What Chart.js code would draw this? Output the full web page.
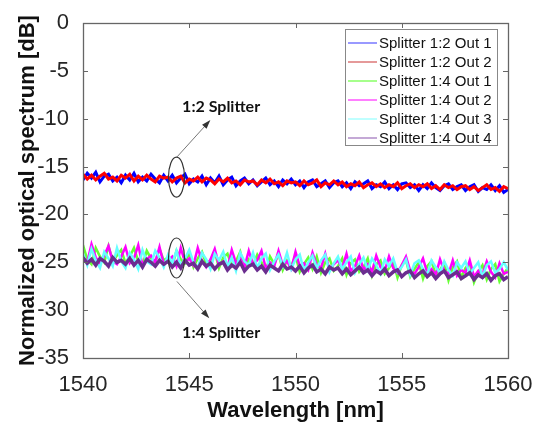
<!DOCTYPE html>
<html>
<head>
<meta charset="utf-8">
<script src="https://cdn.jsdelivr.net/npm/chart.js@4"></script>
<style>
  html, body { margin: 0; padding: 0; background: #fff; }
  #wrap { width: 535px; height: 427px; }
</style>
</head>
<body>
<div id="wrap"><canvas id="myChart" width="535" height="427"></canvas></div>
<script>
// sampling grid (nm)
const wavelength = [
  1540.0, 1540.2, 1540.4, 1540.6, 1540.8, 1541.0, 1541.2, 1541.4, 1541.6, 1541.8,
  1542.0, 1542.2, 1542.4, 1542.6, 1542.8, 1543.0, 1543.2, 1543.4, 1543.6, 1543.8,
  1544.0, 1544.2, 1544.4, 1544.6, 1544.8, 1545.0, 1545.2, 1545.4, 1545.6, 1545.8,
  1546.0, 1546.2, 1546.4, 1546.6, 1546.8, 1547.0, 1547.2, 1547.4, 1547.6, 1547.8,
  1548.0, 1548.2, 1548.4, 1548.6, 1548.8, 1549.0, 1549.2, 1549.4, 1549.6, 1549.8,
  1550.0, 1550.2, 1550.4, 1550.6, 1550.8, 1551.0, 1551.2, 1551.4, 1551.6, 1551.8,
  1552.0, 1552.2, 1552.4, 1552.6, 1552.8, 1553.0, 1553.2, 1553.4, 1553.6, 1553.8,
  1554.0, 1554.2, 1554.4, 1554.6, 1554.8, 1555.0, 1555.2, 1555.4, 1555.6, 1555.8,
  1556.0, 1556.2, 1556.4, 1556.6, 1556.8, 1557.0, 1557.2, 1557.4, 1557.6, 1557.8,
  1558.0, 1558.2, 1558.4, 1558.6, 1558.8, 1559.0, 1559.2, 1559.4, 1559.6, 1559.8,
  1560.0
];

const split12out1 = [
  -16.4, -15.7, -16.2, -15.6, -16.6, -16.0, -15.8, -16.5, -16.1, -16.7,
  -15.9, -16.4, -15.7, -16.6, -16.1, -16.5, -15.8, -16.3, -16.7, -15.9,
  -16.5, -15.9, -16.7, -16.2, -15.8, -16.8, -16.3, -16.6, -16.0, -16.9,
  -16.2, -16.7, -16.0, -16.9, -16.4, -16.1, -17.0, -16.5, -16.2, -16.8,
  -16.4, -17.0, -16.6, -16.2, -16.9, -16.5, -17.1, -16.4, -16.8, -16.3,
  -16.9, -16.5, -17.2, -16.6, -16.4, -17.1, -16.8, -16.5, -17.2, -16.7,
  -16.5, -17.1, -16.7, -17.3, -16.6, -17.0, -16.8, -16.5, -17.3, -16.9,
  -17.1, -16.6, -17.3, -16.9, -17.4, -16.8, -16.7, -17.2, -16.9, -17.5,
  -16.9, -17.3, -16.7, -17.2, -17.5, -17.0, -16.8, -17.4, -17.1, -16.9,
  -17.5, -17.1, -16.9, -17.6, -17.2, -17.4, -16.9, -17.5, -17.0, -17.7,
  -17.4
];

const split12out2 = [
  -15.8, -16.3, -15.9, -16.4, -16.0, -15.7, -16.3, -16.1, -16.5, -15.9,
  -16.2, -15.8, -16.5, -16.0, -16.4, -15.9, -16.3, -16.6, -16.0, -16.2,
  -16.1, -16.6, -16.2, -16.0, -16.7, -16.3, -16.5, -16.1, -16.6, -16.2,
  -16.4, -16.8, -16.3, -16.6, -16.2, -16.7, -16.5, -16.9, -16.4, -16.6,
  -16.5, -16.9, -16.4, -16.7, -16.3, -16.8, -16.6, -17.0, -16.5, -16.7,
  -16.6, -17.0, -16.5, -16.9, -16.7, -16.4, -17.1, -16.7, -16.9, -16.5,
  -16.9, -16.6, -17.1, -16.8, -17.0, -16.6, -17.2, -16.9, -16.7, -17.1,
  -16.8, -17.2, -16.9, -17.1, -16.7, -17.3, -17.0, -16.8, -17.2, -16.9,
  -17.1, -16.8, -17.3, -17.0, -17.4, -16.9, -17.2, -17.0, -17.4, -17.1,
  -17.0, -17.4, -17.1, -17.5, -17.2, -16.9, -17.4, -17.2, -17.6, -17.1,
  -17.3
];

const split14out1 = [
  -23.2, -24.7, -25.2, -23.5, -24.4, -25.0, -23.3, -24.9, -24.3, -23.7,
  -25.1, -24.4, -23.5, -24.9, -25.3, -23.8, -24.6, -25.0, -23.6, -24.8,
  -24.5, -25.4, -23.8, -24.7, -25.1, -24.0, -25.5, -24.6, -23.9, -25.2,
  -24.8, -23.9, -25.6, -24.5, -24.1, -25.4, -24.9, -23.9, -25.7, -24.7,
  -25.3, -24.2, -25.0, -25.9, -24.4, -25.2, -24.1, -25.8, -24.8, -25.4,
  -24.3, -26.0, -25.2, -24.5, -25.7, -24.4, -26.1, -25.0, -24.6, -25.9,
  -25.4, -24.6, -26.3, -25.1, -24.7, -26.0, -25.5, -24.6, -26.4, -25.2,
  -24.8, -26.2, -25.6, -24.9, -26.6, -25.3, -24.8, -26.5, -25.7, -25.0,
  -26.7, -25.4, -24.9, -26.3, -25.8, -25.1, -26.9, -25.5, -24.9, -26.6,
  -25.6, -25.1, -27.1, -26.0, -25.3, -26.8, -25.7, -25.2, -27.0, -26.2,
  -25.6
];

const split14out2 = [
  -24.6, -25.0, -23.1, -24.5, -25.1, -24.3, -23.3, -24.9, -25.2, -24.4,
  -23.4, -25.1, -24.6, -23.2, -25.3, -24.7, -24.3, -25.0, -23.4, -25.2,
  -24.8, -24.4, -25.4, -23.5, -25.0, -24.6, -25.3, -23.5, -24.9, -25.5,
  -24.7, -23.6, -25.3, -24.9, -25.6, -23.7, -25.1, -24.6, -25.5, -23.8,
  -25.2, -24.8, -23.8, -25.6, -25.0, -25.4, -23.8, -25.3, -24.9, -25.7,
  -23.9, -25.4, -25.1, -25.8, -24.0, -25.3, -25.6, -24.1, -25.8, -25.2,
  -24.8, -25.6, -24.1, -25.9, -25.4, -24.3, -25.8, -25.2, -26.0, -24.3,
  -25.5, -25.9, -24.4, -25.6, -26.1, -25.3, -24.4, -25.9, -26.2, -25.5,
  -24.6, -26.1, -25.7, -26.3, -24.7, -25.9, -26.2, -24.8, -26.4, -25.8,
  -26.1, -24.8, -26.5, -25.9, -26.3, -24.9, -26.0, -26.6, -25.1, -26.2,
  -26.0
];

const split14out3 = [
  -24.1, -25.3, -23.6, -24.8, -25.6, -23.9, -24.6, -25.4, -23.5, -24.9,
  -25.6, -24.0, -24.7, -25.7, -23.7, -24.9, -25.2, -23.8, -24.5, -25.5,
  -24.2, -25.1, -23.8, -25.4, -24.6, -23.7, -25.0, -25.6, -24.0, -24.7,
  -25.7, -24.1, -24.8, -23.9, -25.5, -24.5, -25.9, -24.0, -24.9, -25.3,
  -24.0, -25.6, -24.6, -24.1, -25.8, -24.9, -24.2, -25.4, -24.0, -25.7,
  -24.7, -24.2, -25.9, -25.0, -24.3, -25.6, -24.8, -24.2, -26.0, -25.1,
  -24.4, -25.7, -25.0, -24.4, -26.1, -25.2, -24.5, -25.8, -24.6, -25.3,
  -26.2, -24.7, -25.4, -24.6, -26.0, -25.5, -24.7, -26.3, -25.1, -24.8,
  -25.7, -26.3, -24.8, -25.5, -26.1, -24.9, -25.8, -26.4, -25.0, -25.6,
  -24.9, -26.2, -25.6, -25.0, -26.5, -25.3, -24.9, -26.1, -25.7, -25.0,
  -25.8
];

const split14out4 = [
  -24.5, -25.1, -24.7, -25.3, -24.6, -24.9, -25.4, -24.5, -25.0, -24.8,
  -25.2, -24.6, -25.3, -24.8, -25.5, -24.7, -25.0, -25.4, -24.8, -25.2,
  -24.9, -25.5, -25.0, -25.6, -24.8, -25.3, -25.1, -25.7, -24.9, -25.4,
  -25.1, -25.7, -25.2, -25.0, -25.8, -25.3, -25.6, -25.0, -25.9, -25.4,
  -25.2, -25.8, -25.4, -26.0, -25.3, -25.6, -25.9, -25.2, -25.7, -25.5,
  -25.9, -25.4, -26.1, -25.6, -25.3, -26.0, -25.7, -26.2, -25.5, -25.8,
  -25.6, -26.2, -25.7, -26.3, -25.9, -25.5, -26.1, -25.8, -26.4, -25.9,
  -26.2, -25.7, -26.4, -26.0, -25.8, -26.5, -26.1, -25.9, -26.6, -26.2,
  -25.9, -26.5, -26.1, -26.7, -26.2, -25.9, -26.6, -26.3, -26.0, -26.7,
  -26.4, -26.1, -26.8, -26.3, -26.6, -26.2, -26.9, -26.4, -26.2, -26.8,
  -26.5
];

const seriesNames = [
  "Splitter 1:2 Out 1", "Splitter 1:2 Out 2",
  "Splitter 1:4 Out 1", "Splitter 1:4 Out 2",
  "Splitter 1:4 Out 3", "Splitter 1:4 Out 4"
];
const seriesValues = [split12out1, split12out2, split14out1, split14out2, split14out3, split14out4];
const seriesColors = ["#0000ff", "#ff0000", "#66ff33", "#ff00ff", "#66ffff", "#6b2d8f"];
const seriesWidths = [3, 3, 2.5, 2.5, 2.5, 3.5];
const legendColors = ["#7777ff", "#dd7777", "#88ff66", "#ff55ff", "#aaffff", "#b08cc8"];

const xTicks = [1540, 1545, 1550, 1555, 1560];
const yTicks = [0, -5, -10, -15, -20, -25, -30, -35];

const FONT = "'Liberation Sans', Arial, Helvetica, sans-serif";

const datasets = seriesNames.map((name, i) => ({
  label: name,
  data: wavelength.map((w, k) => ({ x: w, y: seriesValues[i][k] })),
  borderColor: seriesColors[i],
  borderWidth: seriesWidths[i],
  pointRadius: 0,
  tension: 0,
  fill: false,
  order: seriesNames.length - i   // later series drawn on top
}));

// box, inward ticks, legend and annotations (MATLAB style)
const decorations = {
  id: "decorations",
  afterDraw(chart) {
    const { ctx, chartArea: a, scales } = chart;
    const xs = scales.x, ys = scales.y;
    ctx.save();

    // inward ticks
    ctx.strokeStyle = "#666";
    ctx.lineWidth = 1;
    ctx.beginPath();
    xTicks.slice(1, -1).forEach(v => {
      const px = Math.round(xs.getPixelForValue(v)) + 0.5;
      ctx.moveTo(px, a.bottom); ctx.lineTo(px, a.bottom - 5);
      ctx.moveTo(px, a.top); ctx.lineTo(px, a.top + 5);
    });
    yTicks.slice(1, -1).forEach(v => {
      const py = Math.round(ys.getPixelForValue(v)) + 0.5;
      ctx.moveTo(a.left, py); ctx.lineTo(a.left + 5, py);
      ctx.moveTo(a.right, py); ctx.lineTo(a.right - 5, py);
    });
    ctx.stroke();

    // frame
    ctx.strokeStyle = "#666";
    ctx.lineWidth = 1.3;
    ctx.strokeRect(Math.round(a.left) + 0.5, Math.round(a.top) + 0.5,
      Math.round(a.right - a.left), Math.round(a.bottom - a.top));

    // legend
    const lw = 152, lh = 116;
    const lx = a.right - 11 - lw, ly = a.top + 6;
    ctx.fillStyle = "#fff";
    ctx.fillRect(lx, ly, lw, lh);
    ctx.strokeStyle = "#888";
    ctx.lineWidth = 1;
    ctx.strokeRect(lx + 0.5, ly + 0.5, lw, lh);
    ctx.font = "15px " + FONT;
    ctx.textBaseline = "middle";
    ctx.textAlign = "left";
    seriesNames.forEach((name, i) => {
      const ry = ly + 14 + i * 19;
      ctx.strokeStyle = legendColors[i];
      ctx.lineWidth = 1.5;
      ctx.beginPath();
      ctx.moveTo(lx + 3, ry); ctx.lineTo(lx + 32, ry);
      ctx.stroke();
      ctx.fillStyle = "#111";
      ctx.fillText(name, lx + 34, ry + 1);
    });

    // annotations: ellipse, arrow, label
    const notes = [
      { cx: 1544.4, cy: -16.1, ax: 1544.42, ay: -14.0, bx: 1545.93, by: -10.3, tx: 1546.5, ty: -8.8, text: "1:2 Splitter" },
      { cx: 1544.4, cy: -24.55, ax: 1544.42, ay: -27.0, bx: 1545.88, by: -30.7, tx: 1546.5, ty: -32.4, text: "1:4 Splitter" }
    ];
    notes.forEach(n => {
      const cx = xs.getPixelForValue(n.cx), cy = ys.getPixelForValue(n.cy);
      ctx.strokeStyle = "#333";
      ctx.lineWidth = 1.2;
      ctx.beginPath();
      ctx.ellipse(cx, cy, 8, 20, 0, 0, Math.PI * 2);
      ctx.stroke();

      const x1 = xs.getPixelForValue(n.ax), y1 = ys.getPixelForValue(n.ay);
      const x2 = xs.getPixelForValue(n.bx), y2 = ys.getPixelForValue(n.by);
      ctx.strokeStyle = "#777";
      ctx.lineWidth = 1;
      ctx.beginPath();
      ctx.moveTo(x1, y1); ctx.lineTo(x2, y2);
      ctx.stroke();
      const ang = Math.atan2(y2 - y1, x2 - x1);
      ctx.fillStyle = "#333";
      ctx.beginPath();
      ctx.moveTo(x2 + 2 * Math.cos(ang), y2 + 2 * Math.sin(ang));
      ctx.lineTo(x2 - 7 * Math.cos(ang) + 3 * Math.sin(ang), y2 - 7 * Math.sin(ang) - 3 * Math.cos(ang));
      ctx.lineTo(x2 - 7 * Math.cos(ang) - 3 * Math.sin(ang), y2 - 7 * Math.sin(ang) + 3 * Math.cos(ang));
      ctx.closePath();
      ctx.fill();

      ctx.font = "bold 16px Lato, 'Open Sans', sans-serif";
      ctx.textAlign = "center";
      ctx.textBaseline = "middle";
      ctx.fillStyle = "#111";
      ctx.fillText(n.text, xs.getPixelForValue(n.tx), ys.getPixelForValue(n.ty));
    });

    ctx.restore();
  }
};

const config = {
  type: "line",
  data: { datasets: datasets },
  options: {
    responsive: false,
    animation: false,
    events: [],
    layout: { padding: { top: 23, right: 27, left: 0, bottom: 0 } },
    plugins: { legend: { display: false }, tooltip: { enabled: false } },
    scales: {
      x: {
        type: "linear",
        min: 1540,
        max: 1560,
        afterBuildTicks: s => { s.ticks = xTicks.map(v => ({ value: v })); },
        afterFit: s => { s.height = 69; s.paddingLeft = 0; s.paddingRight = 0; },
        grid: { display: false },
        border: { display: false },
        ticks: { color: "#262626", font: { family: FONT, size: 22 }, padding: 6, maxRotation: 0, autoSkip: false, callback: v => String(v) },
        title: { display: true, text: "Wavelength [nm]", color: "#111", font: { family: FONT, size: 22, weight: "bold" }, padding: { top: 0, bottom: 3 } }
      },
      y: {
        min: -35,
        max: 0,
        afterBuildTicks: s => { s.ticks = yTicks.map(v => ({ value: v })); },
        afterFit: s => { s.width = 83; },
        grid: { display: false },
        border: { display: false },
        ticks: { color: "#262626", font: { family: FONT, size: 22 }, padding: 6 },
        title: { display: true, text: "Normalized optical spectrum [dB]", color: "#111", font: { family: FONT, size: 22, weight: "bold" }, padding: { top: 15, bottom: 0 } }
      }
    }
  },
  plugins: [decorations]
};

// render init block
const myChart = new Chart(document.getElementById("myChart"), config);
</script>
</body>
</html>
